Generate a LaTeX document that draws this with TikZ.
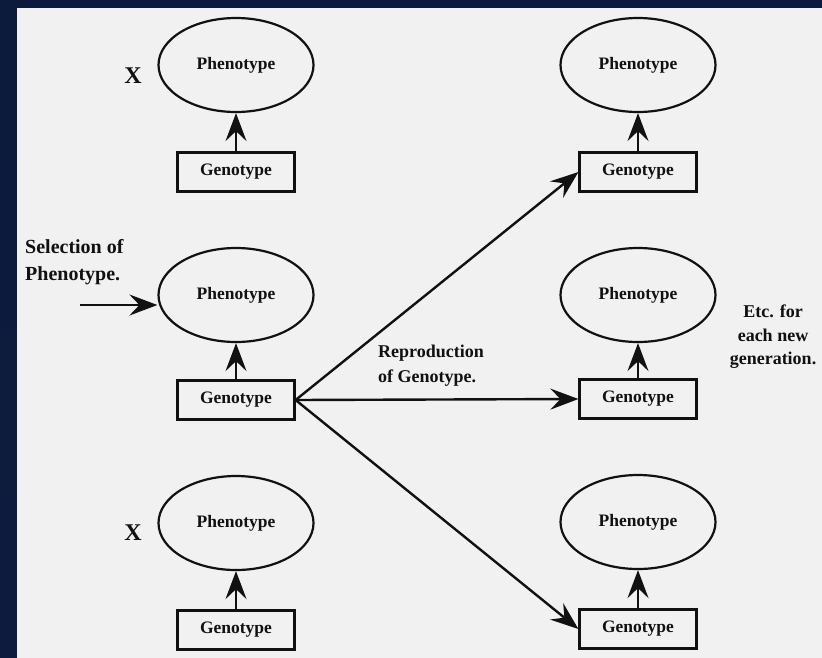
\documentclass[tikz,border=0pt]{standalone}
\usepackage{fontspec}
\setmainfont{Liberation Serif}
\usetikzlibrary{shapes.geometric,arrows.meta}
\definecolor{frametop}{HTML}{0C1A3C}
\definecolor{framemid}{HTML}{15305C}
\definecolor{framebot}{HTML}{0D1B3E}
\definecolor{paper}{HTML}{F1F1F1}
\definecolor{ink}{HTML}{111111}
\tikzset{
  pheno/.style={ellipse, draw=ink, line width=2.2pt, minimum width=155pt, minimum height=94pt, inner sep=0pt, text=ink, font=\bfseries\fontsize{17.5}{20}\selectfont},
  geno/.style={rectangle, draw=ink, line width=2.2pt, minimum width=117pt, minimum height=39pt, inner sep=0pt, text=ink, font=\bfseries\fontsize{17.5}{20}\selectfont},
  conn/.style={draw=ink, line width=2.4pt, -{Stealth[length=28pt, width=21pt, inset=10pt]}},
  lbl/.style={text=ink, font=\bfseries\fontsize{18}{25}\selectfont, inner sep=0pt},
}
\begin{document}
\begin{tikzpicture}[x=1pt, y=-1pt]
\useasboundingbox (0,0) rectangle (822,657);
\shade[top color=frametop, middle color=framemid, bottom color=framebot] (0,0) rectangle (822,657);
\fill[paper] (17,8) rectangle (825,662);
% left column
\node[pheno] (pl1) at (236,65) {Phenotype};
\node[geno]  (gl1) at (236,172) {Genotype};
\node[pheno] (pl2) at (236,295) {Phenotype};
\node[geno]  (gl2) at (236,400) {Genotype};
\node[pheno] (pl3) at (236,523) {Phenotype};
\node[geno]  (gl3) at (236,630) {Genotype};
% right column
\node[pheno] (pr1) at (638,65) {Phenotype};
\node[geno]  (gr1) at (638,172) {Genotype};
\node[pheno] (pr2) at (638,295) {Phenotype};
\node[geno]  (gr2) at (638,399) {Genotype};
\node[pheno] (pr3) at (638,522) {Phenotype};
\node[geno]  (gr3) at (638,629) {Genotype};
% labels
\node[lbl, font=\bfseries\fontsize{24}{28}\selectfont] (x1) at (133,76) {X};
\node[lbl, font=\bfseries\fontsize{24}{28}\selectfont] (x2) at (133,533) {X};
\node[lbl, font=\bfseries\fontsize{20}{27}\selectfont, align=left, anchor=west] (sel) at (25,262) {Selection of\\Phenotype.};
\node[lbl, align=left, anchor=west] (rep) at (378,366) {Reproduction\\of Genotype.};
\node[lbl, font=\bfseries\fontsize{18}{23.5}\selectfont, align=center] (etc) at (773,337) {Etc. for\\each new\\generation.};
% connectors
\foreach \g/\p in {gl1/pl1, gl2/pl2, gl3/pl3, gr1/pr1, gr2/pr2, gr3/pr3}
  \draw[conn] (\g.north) -- (\p.south);
\coordinate (selstart) at (80,305);
\draw[conn] (selstart) -- (selstart -| pl2.west);
\draw[conn] (gl2.east) -- (gr1.west);
\draw[conn] (gl2.east) -- (gr2.west);
\draw[conn] (gl2.east) -- (gr3.west);
\end{tikzpicture}
\end{document}
